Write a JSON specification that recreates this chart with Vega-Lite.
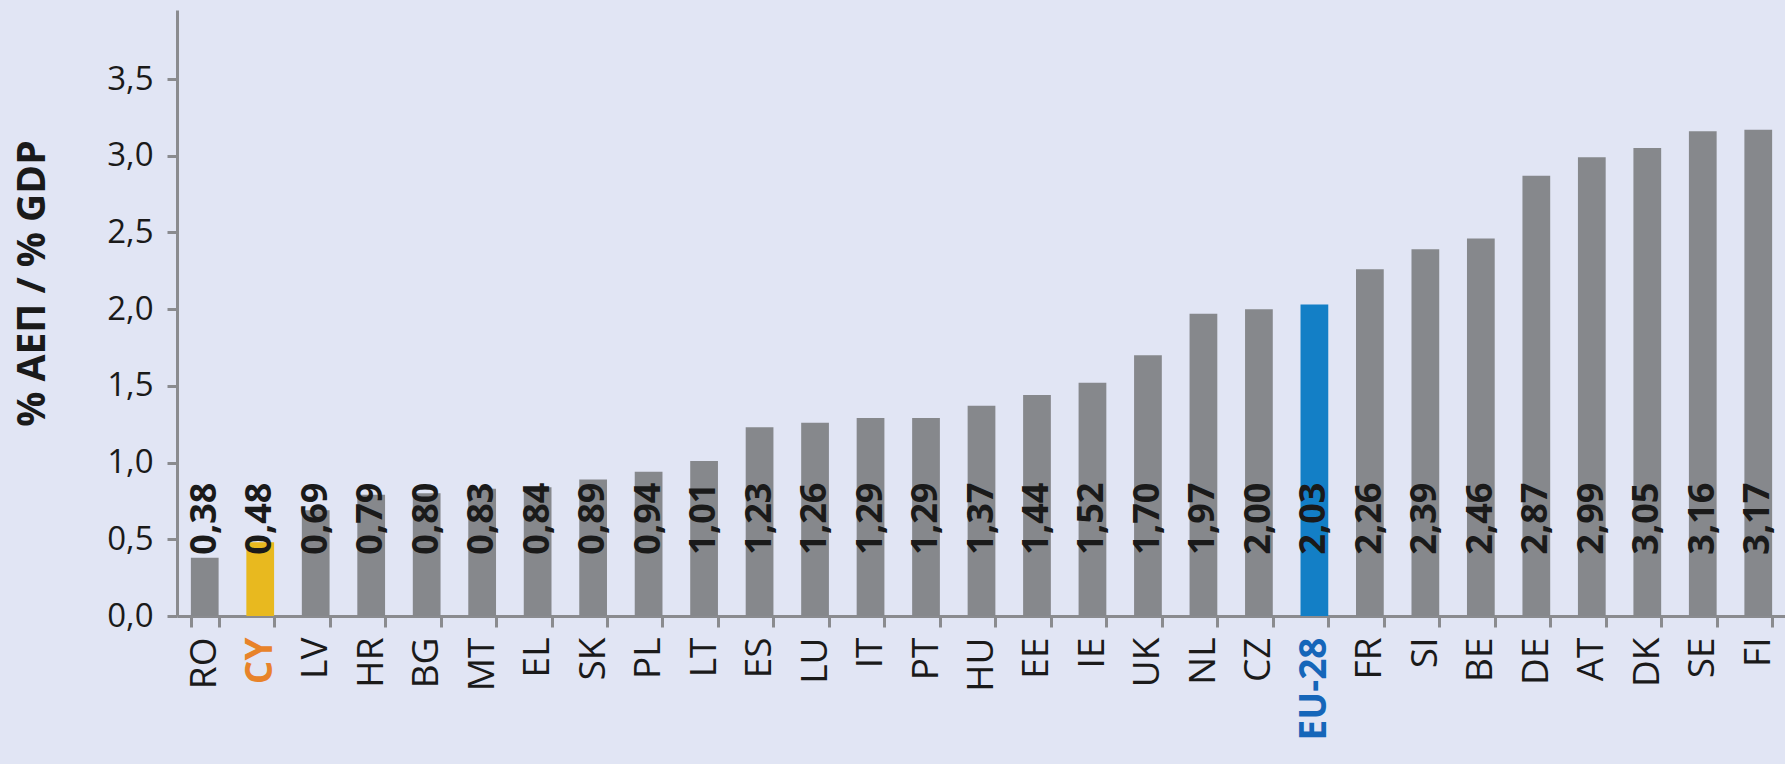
{
  "$schema": "https://vega.github.io/schema/vega-lite/v6.json",
  "width": 1609,
  "height": 606,
  "autosize": "none",
  "padding": {"left": 177, "top": 10, "right": 0, "bottom": 148},
  "background": "#e1e5f4",
  "config": {
    "view": {"stroke": null},
    "locale": {"number": {"decimal": ",", "thousands": ".", "grouping": [3], "currency": ["", " €"]}},
    "font": "Open Sans"
  },
  "data": {
    "values": [
      {"c": "RO", "v": 0.38}, {"c": "CY", "v": 0.48}, {"c": "LV", "v": 0.69},
      {"c": "HR", "v": 0.79}, {"c": "BG", "v": 0.80}, {"c": "MT", "v": 0.83},
      {"c": "EL", "v": 0.84}, {"c": "SK", "v": 0.89}, {"c": "PL", "v": 0.94},
      {"c": "LT", "v": 1.01}, {"c": "ES", "v": 1.23}, {"c": "LU", "v": 1.26},
      {"c": "IT", "v": 1.29}, {"c": "PT", "v": 1.29}, {"c": "HU", "v": 1.37},
      {"c": "EE", "v": 1.44}, {"c": "IE", "v": 1.52}, {"c": "UK", "v": 1.70},
      {"c": "NL", "v": 1.97}, {"c": "CZ", "v": 2.00}, {"c": "EU-28", "v": 2.03},
      {"c": "FR", "v": 2.26}, {"c": "SI", "v": 2.39}, {"c": "BE", "v": 2.46},
      {"c": "DE", "v": 2.87}, {"c": "AT", "v": 2.99}, {"c": "DK", "v": 3.05},
      {"c": "SE", "v": 3.16}, {"c": "FI", "v": 3.17}
    ]
  },
  "encoding": {
    "x": {
      "field": "c", "type": "nominal", "sort": null,
      "scale": {"paddingInner": 0.5, "paddingOuter": 0.25},
      "axis": {
        "title": null,
        "labelAngle": -90,
        "labelFontSize": 37,
        "labelColor": {"expr": "datum.value === 'CY' ? '#e8832a' : datum.value === 'EU-28' ? '#1566b9' : '#1a1a1a'"},
        "labelFontWeight": {"expr": "datum.value === 'CY' || datum.value === 'EU-28' ? 'bold' : 'normal'"},
        "labelPadding": 10,
        "tickBand": "extent",
        "tickSize": 11,
        "tickColor": "#8a8b8f",
        "tickWidth": 3,
        "domainColor": "#8a8b8f",
        "domainWidth": 3
      }
    }
  },
  "layer": [
    {
      "mark": {"type": "bar"},
      "encoding": {
        "y": {
          "field": "v", "type": "quantitative",
          "scale": {"domain": [0, 3.95], "nice": false},
          "axis": {
            "title": "% ΑΕΠ / % GDP",
            "titleFontSize": 39,
            "titleFontWeight": "bold",
            "titleColor": "#1a1a1a",
            "titleX": -145,
            "titleY": 273,
            "titleAngle": -90,
            "titleBaseline": "middle",
            "titleAlign": "center",
            "values": [0, 0.5, 1, 1.5, 2, 2.5, 3, 3.5],
            "format": ".1f",
            "labelFontSize": 33,
            "labelColor": "#1a1a1a",
            "labelPadding": 14,
            "grid": false,
            "tickSize": 10,
            "tickWidth": 3,
            "tickColor": "#8a8b8f",
            "domainColor": "#8a8b8f",
            "domainWidth": 3
          }
        },
        "color": {
          "condition": [
            {"test": "datum.c === 'CY'", "value": "#e8b91f"},
            {"test": "datum.c === 'EU-28'", "value": "#137fc6"}
          ],
          "value": "#86888c"
        }
      }
    },
    {
      "mark": {"type": "text", "angle": 270, "align": "left", "baseline": "middle", "fontWeight": "bold", "fontSize": 36, "color": "#1a1a1a"},
      "encoding": {
        "y": {"datum": 0.4, "type": "quantitative"},
        "text": {"field": "v", "type": "quantitative", "format": ".2f"}
      }
    }
  ]
}
